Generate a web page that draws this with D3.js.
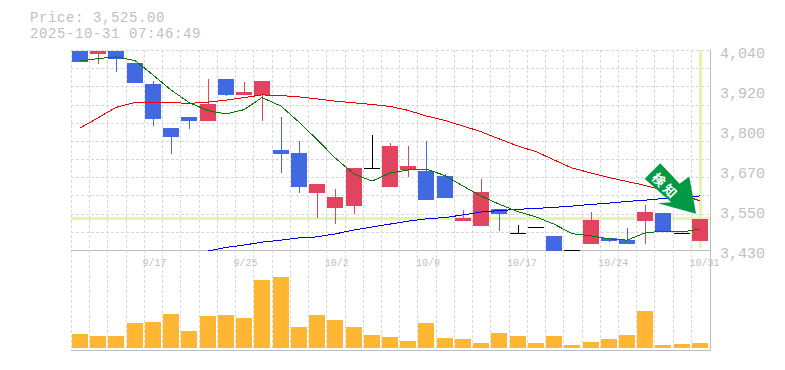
<!DOCTYPE html>
<html>
<head>
<meta charset="utf-8">
<script src="https://cdn.jsdelivr.net/npm/d3@7"></script>
<style>
  html, body { margin: 0; padding: 0; background: #fff; }
  svg { display: block; }
  text { font-family: "Liberation Mono", monospace; fill: #c0c0c0; }
</style>
</head>
<body>
<svg id="chart" width="785" height="370"></svg>
<script>
// ----- Data -----
const opens  = [4037,4028,4037,4000,3936,3802,3836,3823,3952,3903,3903,3735,3726,3604,3558,3564,3679,3622,3674,3671,3656,3518,3503,3555,3481,3499,3473,3429,3448,3467,3461,3518,3543,3482,3457];
const highs  = [4037,4037,4037,4000,3945,3802,3836,3952,3952,3942,3945,3836,3762,3631,3616,3680,3781,3756,3747,3762,3662,3552,3647,3555,3506,3499,3473,3429,3546,3467,3497,3567,3543,3482,3525];
const lows   = [4003,3997,3973,3939,3808,3723,3799,3823,3900,3903,3823,3666,3605,3528,3509,3540,3679,3622,3653,3583,3589,3518,3503,3488,3481,3499,3427,3429,3448,3454,3448,3448,3485,3482,3457];
const closes = [4003,4037,4013,3939,3830,3776,3823,3875,3903,3912,3945,3723,3623,3631,3592,3680,3679,3747,3686,3583,3589,3528,3607,3540,3481,3499,3427,3429,3522,3457,3448,3546,3485,3482,3525];
const ma5  = [4006,4014,4019,4008,3964,3918,3880,3855,3845,3858,3895,3869,3820,3767,3711,3662,3640,3665,3674,3677,3657,3625,3595,3570,3547,3531,3509,3480,3473,3464,3460,3482,3488,3485,3494];
const ma25 = [3802,3833,3865,3880,3881,3880,3877,3881,3887,3895,3903,3901,3897,3891,3884,3879,3874,3868,3856,3839,3825,3808,3791,3769,3747,3730,3705,3680,3665,3651,3639,3627,3613,3598,3580];
const ma75 = [null,null,null,null,null,null,null,3427,3438,3445,3454,3460,3467,3470,3479,3491,3500,3509,3518,3525,3529,3537,3546,3550,3554,3557,3560,3564,3569,3573,3578,3582,3587,3590,3595];
const volumes = [140,120,120,250,260,340,170,320,330,300,680,710,210,330,280,210,130,110,70,250,100,90,50,150,120,50,120,30,60,90,130,370,30,40,50];
const dateLabels = [[4,"9/17"],[9,"9/25"],[14,"10/2"],[19,"10/9"],[24,"10/17"],[29,"10/24"],[34,"10/31"]];
const priceTicks = ["4,040","3,920","3,800","3,670","3,550","3,430"];
const currentPrice = 3525;
const titleLines = ["Price: 3,525.00","2025-10-31 07:46:49"];

const upColor = "#e2435f", downColor = "#4169e1", flatColor = "#000";
const gridColor = "#d8d8d8", axisColor = "#bdbdbd", markColor = "#e3f4ab";
const volColor = "#ffb733", arrowColor = "#009944";

const svg = d3.select("#chart");

// ----- Scales -----
const plotLeft = 71, plotRight = 709.2, plotTop = 50, plotMid = 250, plotBottom = 350;
const x = d3.scaleBand().domain(d3.range(closes.length)).range([plotLeft, plotRight]);
const y = d3.scaleLinear().domain([3430, 4040]).range([plotMid, plotTop]);
const yVol = d3.scaleLinear().domain([0, 710]).range([348, 277]);
const step = x.step();
const cx = i => Math.round(x(i) + 1) + 8;

// ----- Grid -----
const grid = svg.append("g").attr("stroke", gridColor).attr("stroke-dasharray", "3,2").attr("stroke-width", 1);
d3.range(0, closes.length).forEach(i => {
  const px = Math.round(plotLeft + step * i) + 0.5;
  grid.append("line").attr("x1", px).attr("x2", px).attr("y1", plotTop).attr("y2", plotBottom);
});
d3.range(0, 11).forEach(i => {
  const py = Math.round(y(4040 - i * 610 / 11)) + 0.5;
  grid.append("line").attr("x1", plotLeft).attr("x2", plotRight).attr("y1", py).attr("y2", py);
});

// ----- Current price marker -----
svg.append("line").attr("x1", plotLeft).attr("x2", plotRight + 1)
  .attr("y1", Math.round(y(currentPrice)) - 0.5).attr("y2", Math.round(y(currentPrice)) - 0.5)
  .attr("stroke", markColor).attr("stroke-width", 3);
svg.append("line").attr("x1", cx(34) + 0.5).attr("x2", cx(34) + 0.5)
  .attr("y1", plotTop).attr("y2", 248)
  .attr("stroke", markColor).attr("stroke-width", 3);

// ----- Axes lines -----
svg.append("line").attr("x1", plotLeft).attr("x2", 711).attr("y1", plotMid + 0.5).attr("y2", plotMid + 0.5).attr("stroke", axisColor);
svg.append("line").attr("x1", plotLeft).attr("x2", 711).attr("y1", plotBottom + 0.5).attr("y2", plotBottom + 0.5).attr("stroke", axisColor);
svg.append("line").attr("x1", 710.5).attr("x2", 710.5).attr("y1", plotTop).attr("y2", plotBottom + 1).attr("stroke", axisColor);

// ----- Candles -----
const colorOf = i => closes[i] > opens[i] ? upColor : closes[i] < opens[i] ? downColor : flatColor;
const idx = d3.range(closes.length);
svg.append("g").selectAll("line").data(idx).join("line")
  .attr("x1", i => cx(i) + 0.5).attr("x2", i => cx(i) + 0.5)
  .attr("y1", i => Math.round(y(highs[i]))).attr("y2", i => Math.round(y(lows[i])))
  .attr("stroke", colorOf).attr("stroke-width", 1);
svg.append("g").selectAll("rect").data(idx).join("rect")
  .attr("x", i => cx(i) - 8)
  .attr("width", 16)
  .attr("y", i => Math.round(y(Math.max(opens[i], closes[i]))))
  .attr("height", i => Math.max(1, Math.round(y(Math.min(opens[i], closes[i]))) - Math.round(y(Math.max(opens[i], closes[i])))))
  .attr("fill", colorOf);

// ----- Moving averages -----
const lineGen = d3.line().defined(d => d != null).x((d, i) => cx(i)).y(d => y(d));
[[ma75, "#0000ee"], [ma25, "#f00000"], [ma5, "#007a00"]].forEach(([values, color]) => {
  svg.append("path").attr("d", lineGen(values)).attr("fill", "none").attr("stroke", color)
    .attr("stroke-width", 1).attr("shape-rendering", "crispEdges");
});

// ----- Volume -----
svg.append("g").selectAll("rect").data(volumes).join("rect")
  .attr("x", (d, i) => cx(i) - 8)
  .attr("width", 16)
  .attr("y", d => Math.round(yVol(d)))
  .attr("height", d => 348 - Math.round(yVol(d)))
  .attr("fill", volColor);

// ----- Arrow annotation, anchored on the last candle -----
const tipX = cx(34) - 4, tipY = y(currentPrice) - 5;
const arrowShape = [[0,0],[-6.7,-37.3],[-16.4,-30],[-35.7,-50.6],[-51.4,-35],[-24.7,-11.6],[-38,-10.6]];
const arrow = svg.append("g").attr("transform", `translate(${tipX},${tipY})`);
arrow.append("polygon").attr("points", arrowShape.map(p => p.join(",")).join(" ")).attr("fill", arrowColor);
arrow.append("text").attr("transform", "translate(-30,-28) rotate(45)")
  .attr("text-anchor", "middle").attr("dominant-baseline", "central")
  .style("font-family", '"Noto Sans CJK JP"').style("font-weight", "700").style("font-size", "13px")
  .style("letter-spacing", "3px").style("fill", "#fff")
  .text("検知");

// ----- Text -----
const title = svg.append("g").style("font-size", "14px").style("letter-spacing", "0.6px");
titleLines.forEach((t, i) => title.append("text").attr("x", 30).attr("y", 22 + i * 16).text(t));

const priceAxis = svg.append("g").style("font-size", "15px");
priceTicks.forEach((t, i) => priceAxis.append("text").attr("x", 720).attr("y", plotTop + i * 40 + 8).text(t));

svg.append("g").style("font-size", "10px").selectAll("text").data(dateLabels).join("text")
  .attr("x", d => x(d[0]) - 1.5).attr("y", 266).text(d => d[1]);
</script>
</body>
</html>
